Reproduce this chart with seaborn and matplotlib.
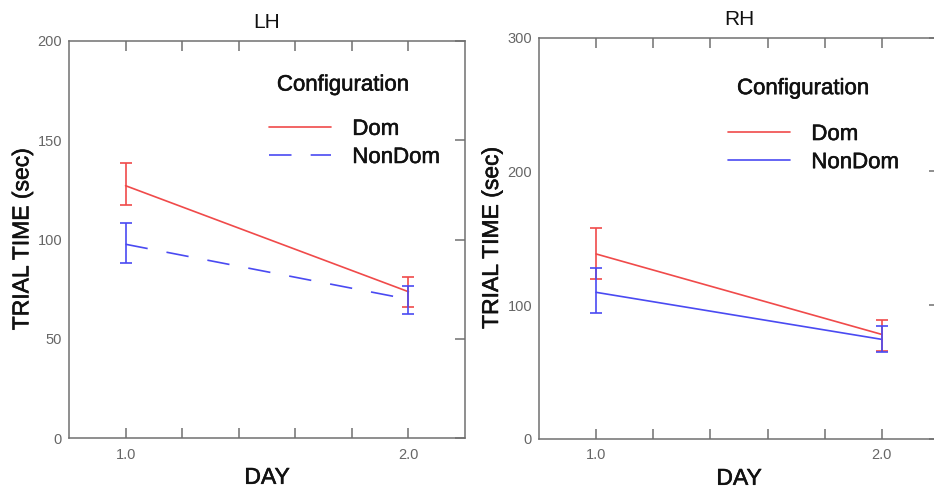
import numpy as np
import pandas as pd
import matplotlib
matplotlib.use("Agg")
import matplotlib.pyplot as plt
import matplotlib.patheffects as pe
import seaborn as sns
from matplotlib.lines import Line2D

sns.set_style("white")
plt.rcParams['font.family'] = ['Liberation Sans', 'DejaVu Sans']
plt.rcParams['text.color'] = 'black'
plt.rcParams['axes.labelcolor'] = 'black'

# ---- data ----
days = [1.0, 2.0]
configs = ["Dom", "NonDom"]

lh_dom_mean = [127.1, 73.7]
lh_dom_lo = [117.4, 65.8]
lh_dom_hi = [138.4, 81.0]
lh_non_mean = [97.6, 69.9]
lh_non_lo = [88.0, 62.3]
lh_non_hi = [108.2, 76.7]

rh_dom_mean = [138.2, 78.0]
rh_dom_lo = [119.2, 65.8]
rh_dom_hi = [157.9, 88.8]
rh_non_mean = [109.5, 74.3]
rh_non_lo = [93.8, 65.1]
rh_non_hi = [127.9, 84.3]

panel_titles = ["LH", "RH"]
ylims = [200, 300]
yticks_list = [[0, 50, 100, 150, 200], [0, 100, 200, 300]]
xtick_pos = [1.0, 1.2, 1.4, 1.6, 1.8, 2.0]
xtick_labels = ["1.0", "", "", "", "", "2.0"]

RED = "#f04a4a"
BLUE = "#4a4af2"
GREY = "#707070"
palette = {"Dom": RED, "NonDom": BLUE}
DASH = (13.5, 11.5)
heavy = [pe.withStroke(linewidth=0.4, foreground="#111111")]

fig = plt.figure(figsize=(9.34, 4.91), dpi=100)
ax_l = fig.add_axes([69/934, (491-438)/491, 396/934, 397/491])
ax_r = fig.add_axes([539/934, (491-438.7)/491, 400/934, 401/491])

panels = [
    (ax_l, lh_dom_mean, lh_dom_lo, lh_dom_hi, lh_non_mean, lh_non_lo, lh_non_hi, True,
     (0.525, 0.889), (0.505, 0.742)),
    (ax_r, rh_dom_mean, rh_dom_lo, rh_dom_hi, rh_non_mean, rh_non_lo, rh_non_hi, False,
     (0.495, 0.873), (0.4725, 0.7235)),
]

for i, (ax, dm, dlo, dhi, nm, nlo, nhi, dashed, ttl_pos, leg_pos) in enumerate(panels):
    df = pd.DataFrame({
        "day": days + days,
        "time": dm + nm,
        "config": ["Dom"] * 2 + ["NonDom"] * 2,
    })
    dash_map = {"Dom": "", "NonDom": DASH} if dashed else {"Dom": "", "NonDom": ""}
    sns.lineplot(data=df, x="day", y="time", hue="config", style="config",
                 palette=palette, dashes=dash_map, linewidth=1.2, legend=False, ax=ax)
    for mean, lo, hi, c in [(dm, dlo, dhi, RED), (nm, nlo, nhi, BLUE)]:
        mean = np.array(mean); lo = np.array(lo); hi = np.array(hi)
        ax.errorbar(days, mean, yerr=[mean - lo, hi - mean], fmt="none",
                    ecolor=c, elinewidth=1.2, capsize=4.5, capthick=1.2)

    ax.set_xlim(0.8, 2.2)
    ax.set_ylim(0, ylims[i])
    ax.set_xticks(xtick_pos)
    ax.set_xticklabels(xtick_labels)
    ax.set_yticks(yticks_list[i])
    ax.tick_params(axis="x", direction="in", top=True, bottom=True, length=7.5,
                   width=1.1, color=GREY, labelsize=10.5, labelcolor="#666666", pad=7)
    ax.tick_params(axis="y", direction="in", left=False, right=True, length=7.5,
                   width=1.1, color=GREY, labelsize=10.5, labelcolor="#666666", pad=5)
    for sp in ax.spines.values():
        sp.set_color(GREY)
        sp.set_linewidth(1.1)
    ax.set_title(panel_titles[i], fontsize=15, pad=9, color="#111111")
    ax.set_xlabel("DAY", fontsize=16.5, color="#111111", path_effects=heavy)
    ax.set_ylabel("TRIAL TIME (sec)", fontsize=16.5, color="#111111", path_effects=heavy)
    ax.xaxis.set_label_coords(0.5, -0.07)
    ax.yaxis.set_label_coords(-0.09, 0.5)

    ax.text(ttl_pos[0], ttl_pos[1], "Configuration", transform=ax.transAxes,
            fontsize=16, va="center", ha="left", color="#111111", path_effects=heavy)
    if dashed:
        h2 = Line2D([], [], color=BLUE, lw=1.2, dashes=DASH)
    else:
        h2 = Line2D([], [], color=BLUE, lw=1.2)
    handles = [Line2D([], [], color=RED, lw=1.2), h2]
    leg = ax.legend(handles, configs, loc="center left", bbox_to_anchor=leg_pos,
                    frameon=False, fontsize=16, handlelength=2.8, handletextpad=0.95,
                    labelspacing=0.32, borderpad=0, borderaxespad=0)
    for t in leg.get_texts():
        t.set_color("#111111")
        t.set_path_effects(heavy)

fig.savefig("out.png", dpi=100)
